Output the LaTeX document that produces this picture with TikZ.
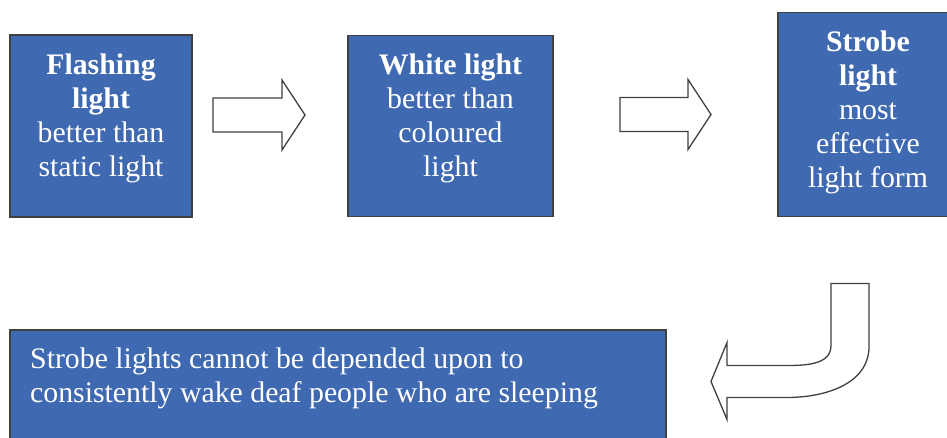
\documentclass[tikz,border=0pt]{standalone}
\usepackage{fontspec}
\setmainfont{Liberation Serif}
\usetikzlibrary{positioning, calc}

\definecolor{boxblue}{RGB}{63,105,176}
\definecolor{edgegray}{RGB}{64,64,64}

\begin{document}
\begin{tikzpicture}[
    x=1pt, y=1pt,
    box/.style={rectangle, draw=edgegray, line width=1.3pt, fill=boxblue, inner sep=0pt, outer sep=0pt},
    boxtext/.style={text=white, inner sep=0pt, font=\fontsize{29.8}{34}\selectfont},
    blockarrow/.style={draw=edgegray, line width=1.3pt, fill=white, line join=miter},
]

\clip (0,0) rectangle (947,438);

% Top row
\node[box, minimum width=182pt, minimum height=182pt, anchor=north west] (flash) at (10,403) {};
\node[boxtext, align=center, below=18.5pt of flash.north] (flashtxt)
    {\textbf{Flashing}\\\textbf{light}\\better than\\static light};

\node[box, minimum width=205pt, minimum height=181pt, right=156pt of flash] (white) {};
\node[boxtext, align=center, below=18.5pt of white.north] (whitetxt)
    {\textbf{White light}\\better than\\coloured\\light};

\node[box, minimum width=180pt, minimum height=204pt, right=225pt of white.south east, anchor=south west] (strobe) {};
\node[boxtext, align=center, below=18.5pt of strobe.north] (strobetxt)
    {\textbf{Strobe}\\\textbf{light}\\most\\effective\\light form};

% Bottom box
\node[box, minimum width=656pt, minimum height=124pt, below=113pt of flash.south west, anchor=north west] (warn) {};
\node[boxtext, align=left, below right=17.3pt and 20pt of warn.north west] (warntxt)
    {Strobe lights cannot be depended upon to\\consistently wake deaf people who are sleeping};

% Block arrows
\coordinate (a1) at ([shift={(21,11)}]flash.east);
\coordinate (a2) at ([shift={(67,11.5)}]white.east);
\coordinate (bend) at ([shift={(-37,-67)}]strobe.south);

\draw[blockarrow] (a1) ++(0,17) -- ++(69,0) -- ++(0,18) -- ++(23,-35)
    -- ++(-23,-35) -- ++(0,18) -- ++(-69,0) -- cycle;
\draw[blockarrow] (a2) ++(0,17) -- ++(68,0) -- ++(0,18) -- ++(23,-35)
    -- ++(-23,-35) -- ++(0,18) -- ++(-68,0) -- cycle;

% Bent arrow down to the bottom box
\draw[blockarrow] (bend) -- ++(38,0) -- ++(0,-63)
    to[out=-90, in=0] ++(-82,-51) -- ++(-60,0) -- ++(0,-22)
    -- ++(-16,38) -- ++(16,39) -- ++(0,-23) -- ++(56,0)
    to[out=0, in=-90] ++(48,20) -- cycle;

\end{tikzpicture}
\end{document}
